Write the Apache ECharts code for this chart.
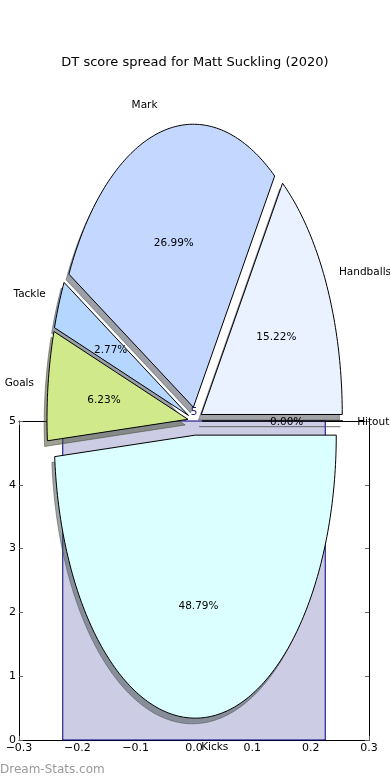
<!DOCTYPE html>
<html>
<head>
<meta charset="utf-8">
<script src="https://cdn.jsdelivr.net/npm/echarts@6/dist/echarts.min.js"></script>
<style>html,body{margin:0;padding:0;background:#fff}#c{width:390px;height:780px}</style>
</head>
<body>
<div id="c"></div>
<script>
// ---- data ----
const categories = ['Handballs', 'Mark', 'Tackle', 'Goals', 'Kicks', 'Hitout'];
const shares = [15.22, 26.99, 2.77, 6.23, 48.79, 0.00];
const sliceColors = ['#eaf1ff', '#c4d8ff', '#b4d6ff', '#d0ea8b', '#dbffff', '#ffffff'];
const barX = [0];
const barValues = [5];
const titleText = 'DT score spread for Matt Suckling (2020)';

// ---- styling constants ----
const FONT = '"DejaVu Sans", sans-serif';
const LABEL_SIZE = 10.5;
const TICK_SIZE = 11;
const EXPLODE = 0.05;
const SHADOW_OFF = [-0.02, -0.02];
const BAR_HALF_WIDTH = 0.225;

const total = shares.reduce((a, b) => a + b, 0);
const startAngles = [];
(function () { let c = 0; shares.forEach(v => { startAngles.push(360 * c / total); c += v; }); })();

function shade(hex) {
  const n = parseInt(hex.slice(1), 16);
  const r = Math.round(((n >> 16) & 255) * 0.3), g = Math.round(((n >> 8) & 255) * 0.3), b = Math.round((n & 255) * 0.3);
  return 'rgba(' + r + ',' + g + ',' + b + ',0.5)';
}

function wedgeGeom(i, api, off) {
  const a1 = startAngles[i], a2 = a1 + 360 * shares[i] / total;
  const mid = (a1 + a2) / 2 * Math.PI / 180;
  const cx = EXPLODE * Math.cos(mid) + off[0], cy = EXPLODE * Math.sin(mid) + off[1];
  const pts = [api.coord([cx, cy])];
  const steps = Math.max(1, Math.ceil((a2 - a1) / 1));
  for (let k = 0; k <= steps; k++) {
    const a = (a1 + (a2 - a1) * k / steps) * Math.PI / 180;
    pts.push(api.coord([cx + Math.cos(a), cy + Math.sin(a)]));
  }
  return { pts, mid, cx, cy };
}

const pieData = categories.map((c, i) => [i]);

const option = {
  animation: false,
  title: {
    text: titleText, left: 'center', top: 51,
    textStyle: { fontFamily: FONT, fontSize: 13, fontWeight: 'normal', color: '#000' }
  },
  graphic: [{
    type: 'text', left: 0, top: 764,
    style: { text: 'Dream-Stats.com', fill: '#9a9a9a', font: '12px ' + FONT }
  }],
  grid: [
    { left: 19, top: 421, width: 350, height: 319, show: false },
    { left: 54, top: 138, width: 282, height: 566, show: false }
  ],
  xAxis: [
    {
      gridIndex: 0, type: 'value', min: -0.3, max: 0.3, interval: 0.1, position: 'bottom',
      axisLine: { show: true, onZero: false, lineStyle: { color: '#000', width: 1 } },
      axisTick: { show: true, inside: true, length: 4, lineStyle: { color: '#666' } },
      splitLine: { show: false },
      axisLabel: {
        margin: 3, color: '#000', fontFamily: FONT, fontSize: TICK_SIZE,
        formatter: v => Math.abs(v) < 1e-9 ? '0.0' : (v < 0 ? '\u2212' : '') + Math.abs(v).toFixed(1)
      }
    },
    {
      gridIndex: 0, type: 'value', min: -0.3, max: 0.3, interval: 0.1, position: 'top',
      axisLine: { show: true, onZero: false, lineStyle: { color: '#000', width: 1 } },
      axisTick: { show: true, inside: true, length: 4, lineStyle: { color: '#666' } },
      splitLine: { show: false }, axisLabel: { show: false }
    },
    { gridIndex: 1, type: 'value', min: -1, max: 1, show: false }
  ],
  yAxis: [
    {
      gridIndex: 0, type: 'value', min: 0, max: 5, interval: 1, position: 'left',
      axisLine: { show: true, onZero: false, lineStyle: { color: '#000', width: 1 } },
      axisTick: { show: true, inside: true, length: 4, lineStyle: { color: '#666' } },
      splitLine: { show: false },
      axisLabel: { margin: 3, color: '#000', fontFamily: FONT, fontSize: TICK_SIZE }
    },
    {
      gridIndex: 0, type: 'value', min: 0, max: 5, interval: 1, position: 'right',
      axisLine: { show: true, onZero: false, lineStyle: { color: '#000', width: 1 } },
      axisTick: { show: true, inside: true, length: 4, lineStyle: { color: '#666' } },
      splitLine: { show: false }, axisLabel: { show: false }
    },
    { gridIndex: 1, type: 'value', min: -1, max: 1, show: false }
  ],
  series: [
    {
      type: 'custom', name: 'bar', xAxisIndex: 0, yAxisIndex: 0, z: 1,
      data: barX.map((x, i) => [x, barValues[i]]),
      renderItem: function (params, api) {
        const x = api.value(0), v = api.value(1);
        const p1 = api.coord([x - BAR_HALF_WIDTH, v]);
        const p2 = api.coord([x + BAR_HALF_WIDTH, 0]);
        const top = api.coord([x, v]);
        return {
          type: 'group', children: [
            { type: 'rect', shape: { x: p1[0], y: p1[1], width: p2[0] - p1[0], height: p2[1] - p1[1] },
              style: { fill: '#ccccE5', stroke: '#000080', lineWidth: 1 } },
            { type: 'text', style: { text: String(v), x: top[0], y: top[1] - 9, align: 'center', verticalAlign: 'middle',
              fill: '#1a1a80', font: LABEL_SIZE + 'px ' + FONT } }
          ]
        };
      }
    },
    {
      type: 'custom', name: 'shadow', xAxisIndex: 2, yAxisIndex: 2, z: 3,
      data: pieData,
      renderItem: function (params, api) {
        const i = api.value(0);
        const g = wedgeGeom(i, api, SHADOW_OFF);
        const c = shade(sliceColors[i]);
        return { type: 'polygon', shape: { points: g.pts }, style: { fill: c, stroke: c, lineWidth: 1 } };
      }
    },
    {
      type: 'custom', name: 'wedge', xAxisIndex: 2, yAxisIndex: 2, z: 4,
      data: pieData,
      renderItem: function (params, api) {
        const i = api.value(0);
        const g = wedgeGeom(i, api, [0, 0]);
        const lx = g.cx + 1.1 * Math.cos(g.mid), ly = g.cy + 1.1 * Math.sin(g.mid);
        const lp = api.coord([lx, ly]);
        const pp = api.coord([g.cx + 0.6 * Math.cos(g.mid), g.cy + 0.6 * Math.sin(g.mid)]);
        return {
          type: 'group', children: [
            { type: 'polygon', shape: { points: g.pts }, style: { fill: sliceColors[i], stroke: '#000', lineWidth: 1 } },
            { type: 'text', z2: 10, style: { text: categories[i], x: lp[0], y: lp[1] + 1, align: lx > 0 ? 'left' : 'right',
              verticalAlign: 'middle', fill: '#000', font: LABEL_SIZE + 'px ' + FONT } },
            { type: 'text', z2: 10, style: { text: shares[i].toFixed(2) + '%', x: pp[0], y: pp[1] + 1, align: 'center',
              verticalAlign: 'middle', fill: '#000', font: LABEL_SIZE + 'px ' + FONT } }
          ]
        };
      }
    }
  ]
};

const chart = echarts.init(document.getElementById('c'), null, { renderer: 'canvas' });
chart.setOption(option);
</script>
</body>
</html>
